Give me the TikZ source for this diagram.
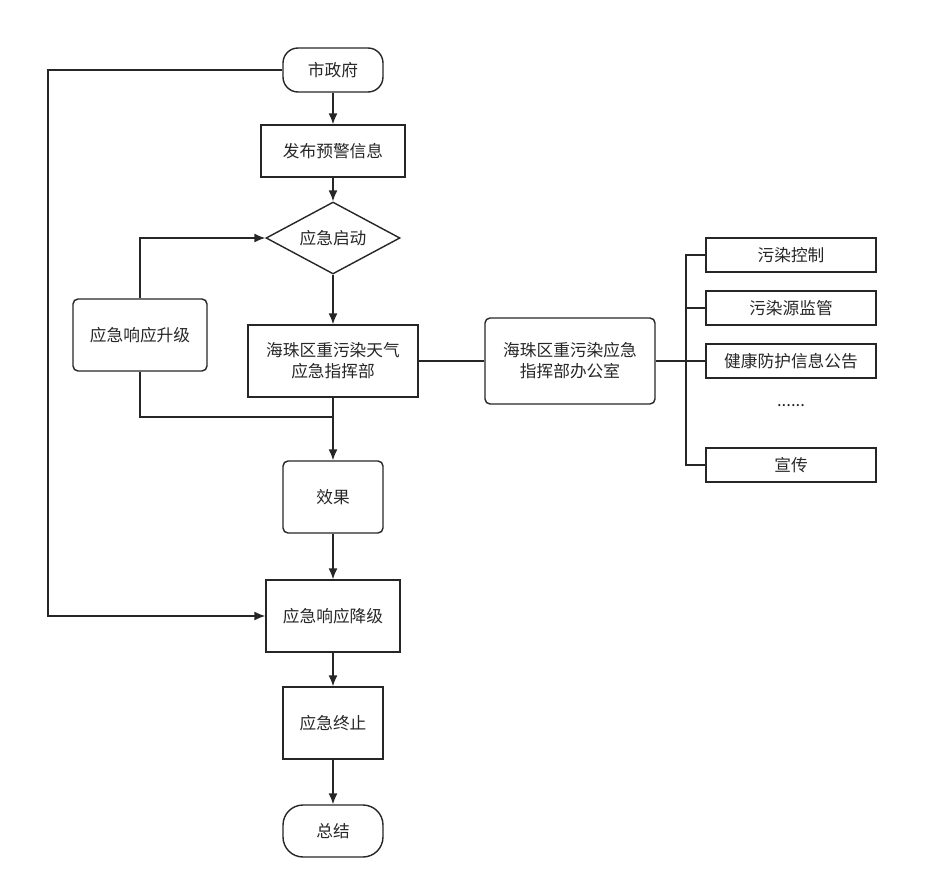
\documentclass[tikz,border=0pt]{standalone}
\usepackage{fontspec}
\setmainfont{Noto Sans CJK SC}
\usetikzlibrary{shapes.geometric,arrows.meta}
\tikzset{
  box/.style={draw, thick, minimum width=#1, inner sep=0pt, align=center, font=\fontsize{9.5}{12}\selectfont},
  box/.default=2.9cm,
  flow/.style={thick, -{Latex[length=2.2mm,width=1.8mm]}}
}
\begin{document}
\begin{tikzpicture}[x=0.02cm, y=-0.02cm, color={black!85}]
            \useasboundingbox (0,0) rectangle (937,889);

            \node[box=2cm, rounded corners=3mm, minimum height=0.88cm] (gov) at (333,70) {市政府};
            \node[box=2.88cm, minimum height=1.04cm] (warn) at (333,151) {发布预警信息};
            \node[box=2.68cm, shape=diamond, aspect=1.86, minimum height=1.44cm] (start) at (333,238) {应急启动};
            \node[box=2.68cm, rounded corners=1mm, minimum height=1.44cm] (up) at (140,335) {应急响应升级};
            \node[box=3.4cm, minimum height=1.44cm] (cmd) at (333,361) {海珠区重污染天气\\应急指挥部};
            \node[box=3.4cm, rounded corners=1mm, minimum height=1.72cm] (office) at (570,361) {海珠区重污染应急\\指挥部办公室};

            \node[box=3.4cm, minimum height=0.68cm] (t1) at (791,255) {污染控制};
            \node[box=3.4cm, minimum height=0.68cm] (t2) at (791,308) {污染源监管};
            \node[box=3.4cm, minimum height=0.68cm] (t3) at (791,361) {健康防护信息公告};
            \node[font=\fontsize{9.5}{12}\selectfont] (t4) at (791,406) {......};
            \node[box=3.4cm, minimum height=0.68cm] (t5) at (791,465) {宣传};

            \node[box=2cm, rounded corners=1mm, minimum height=1.44cm] (effect) at (333,497) {效果};
            \node[box=2.68cm, minimum height=1.44cm] (down) at (333,616) {应急响应降级};
            \node[box=2cm, minimum height=1.44cm] (stop) at (333,723) {应急终止};
            \node[box=2cm, rounded corners=4mm, minimum height=1.04cm] (sum) at (333,831) {总结};

            \coordinate (join) at (333,417);
            \coordinate (fork) at (686,361);

            \draw[flow] (gov) -- (warn);
            \draw[flow] (warn) -- (start);
            \draw[flow] (start) -- (cmd);
            \draw[flow] (cmd) -- (effect);
            \draw[flow] (effect) -- (down);
            \draw[flow] (down) -- (stop);
            \draw[flow] (stop) -- (sum);
            \draw[flow] (up.north) |- (start.west);
            \draw[thick] (up.south) |- (join);
            \draw[flow] (gov.west) -- (48,70) |- (down.west);

            \draw[thick] (cmd) -- (office);
            \draw[thick] (office) -- (fork);
            \draw[thick] (fork) |- (t1.west);
            \draw[thick] (fork) |- (t2.west);
            \draw[thick] (fork) -- (t3.west);
            \draw[thick] (fork) |- (t5.west);
        \end{tikzpicture}
\end{document}
